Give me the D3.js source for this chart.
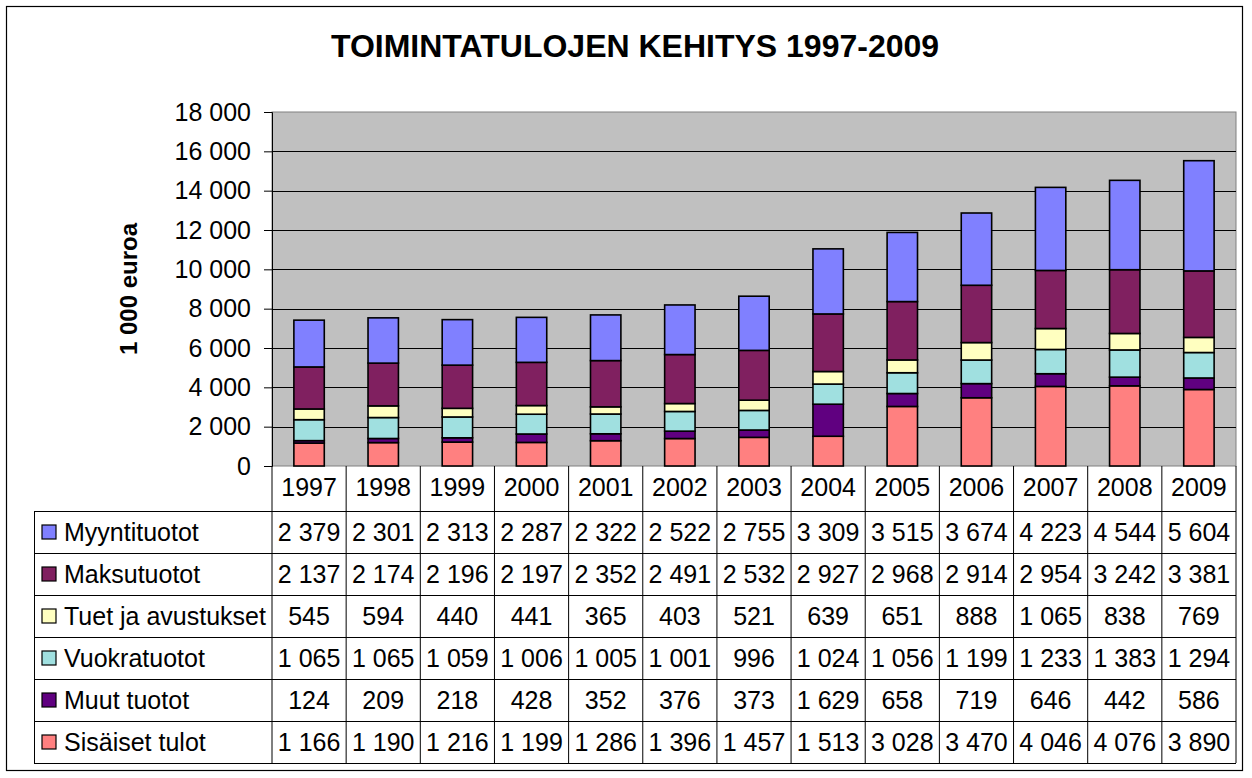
<!DOCTYPE html>
<html>
<head>
<meta charset="utf-8">
<script src="https://cdn.jsdelivr.net/npm/d3@7"></script>
<style>
  body { margin: 0; background: #fff; }
  text { font-family: "Liberation Sans", Arial, sans-serif; }
</style>
</head>
<body>
<div id="chart"></div>
<script>
// data
const years = ["1997", "1998", "1999", "2000", "2001", "2002", "2003", "2004", "2005", "2006", "2007", "2008", "2009"];
const seriesNames = ["Sisäiset tulot", "Muut tuotot", "Vuokratuotot", "Tuet ja avustukset", "Maksutuotot", "Myyntituotot"];
const seriesColors = ["#FF8080", "#600080", "#A0E0E0", "#FFFFC0", "#802060", "#8080FF"];
const sisaiset = [1166, 1190, 1216, 1199, 1286, 1396, 1457, 1513, 3028, 3470, 4046, 4076, 3890];
const muut = [124, 209, 218, 428, 352, 376, 373, 1629, 658, 719, 646, 442, 586];
const vuokra = [1065, 1065, 1059, 1006, 1005, 1001, 996, 1024, 1056, 1199, 1233, 1383, 1294];
const tuet = [545, 594, 440, 441, 365, 403, 521, 639, 651, 888, 1065, 838, 769];
const maksu = [2137, 2174, 2196, 2197, 2352, 2491, 2532, 2927, 2968, 2914, 2954, 3242, 3381];
const myynti = [2379, 2301, 2313, 2287, 2322, 2522, 2755, 3309, 3515, 3674, 4223, 4544, 5604];
const yTicks = [0, 2000, 4000, 6000, 8000, 10000, 12000, 14000, 16000, 18000];

const seriesValues = [sisaiset, muut, vuokra, tuet, maksu, myynti];
const rows = years.map((y, i) => {
  const r = { year: y };
  seriesNames.forEach((s, k) => { r[s] = seriesValues[k][i]; });
  return r;
});

const W = 1252, H = 778;
const plot = { left: 272, right: 1236, top: 112, bottom: 466 };
const tableLeft = 34, headerBottom = 511, rowH = 42;
const fs = '25px';

const fmt = d3.formatLocale({ decimal: ",", thousands: " ", grouping: [3], currency: ["", ""] }).format(",d");

const svg = d3.select('#chart').append('svg')
  .attr('width', W)
  .attr('height', H);

// outer frame
svg.append('rect')
  .attr('x', 6.5).attr('y', 6.5)
  .attr('width', 1236).attr('height', 764)
  .attr('fill', '#fff')
  .attr('stroke', '#000')
  .attr('stroke-width', 1.2);

svg.append('text')
  .attr('x', 635).attr('y', 57)
  .attr('text-anchor', 'middle')
  .style('font-size', '32px')
  .style('font-weight', 'bold')
  .text('TOIMINTATULOJEN KEHITYS 1997-2009');

const x = d3.scaleBand().domain(years).range([plot.left, plot.right]).padding(0);
const y = d3.scaleLinear().domain([0, 18000]).range([plot.bottom, plot.top]);

// plot area
svg.append('rect')
  .attr('x', plot.left).attr('y', plot.top)
  .attr('width', plot.right - plot.left).attr('height', plot.bottom - plot.top)
  .attr('fill', '#C0C0C0')
  .attr('stroke', '#808080');

// gridlines
svg.append('g')
  .selectAll('line')
  .data(yTicks.filter(d => d > 0 && d < 18000))
  .enter()
  .append('line')
  .attr('x1', plot.left).attr('x2', plot.right)
  .attr('y1', d => Math.round(y(d)) + 0.5).attr('y2', d => Math.round(y(d)) + 0.5)
  .attr('stroke', '#000');

// y axis
const yAxis = svg.append('g')
  .attr('transform', `translate(${plot.left},0)`)
  .call(d3.axisLeft(y).tickValues(yTicks).tickFormat(fmt).tickSize(8).tickPadding(13));
yAxis.select('.domain').attr('stroke', '#000');
yAxis.selectAll('text').style('font-size', fs).attr('fill', '#000')
  .style('font-family', '"Liberation Sans", Arial, sans-serif');

svg.append('text')
  .attr('transform', `translate(137,${(plot.top + plot.bottom) / 2}) rotate(-90)`)
  .attr('text-anchor', 'middle')
  .style('font-size', '24px')
  .style('font-weight', 'bold')
  .text('1 000 euroa');

// stacked bars
const stack = d3.stack().keys(seriesNames)(rows);
const barW = x.bandwidth() * 0.41;
svg.append('g')
  .selectAll('g')
  .data(stack)
  .enter()
  .append('g')
  .attr('fill', (d, i) => seriesColors[i])
  .selectAll('rect')
  .data(d => d)
  .enter()
  .append('rect')
  .attr('x', d => x(d.data.year) + (x.bandwidth() - barW) / 2)
  .attr('y', d => y(d[1]))
  .attr('width', barW)
  .attr('height', d => y(d[0]) - y(d[1]))
  .attr('stroke', '#000')
  .attr('stroke-width', 1.6);

// data table
const table = svg.append('g');
const tableRows = seriesNames.slice().reverse();
const tableVals = seriesValues.slice().reverse();
const tableColors = seriesColors.slice().reverse();
const tableBottom = headerBottom + rowH * tableRows.length;

// year header cells
table.selectAll('.yr')
  .data(years)
  .enter()
  .append('text')
  .attr('x', d => x(d) + x.bandwidth() / 2)
  .attr('y', 496)
  .attr('text-anchor', 'middle')
  .style('font-size', fs)
  .text(d => d);

// horizontal lines
table.selectAll('.hl')
  .data(d3.range(tableRows.length + 1))
  .enter()
  .append('line')
  .attr('x1', tableLeft).attr('x2', plot.right)
  .attr('y1', i => headerBottom + i * rowH + 0.5).attr('y2', i => headerBottom + i * rowH + 0.5)
  .attr('stroke', '#000');

// vertical lines
table.selectAll('.vl')
  .data(years.concat(['end']))
  .enter()
  .append('line')
  .attr('x1', d => d === 'end' ? plot.right : x(d))
  .attr('x2', d => d === 'end' ? plot.right : x(d))
  .attr('y1', plot.bottom)
  .attr('y2', tableBottom)
  .attr('stroke', '#000');
table.append('line')
  .attr('x1', tableLeft + 0.5).attr('x2', tableLeft + 0.5)
  .attr('y1', headerBottom).attr('y2', tableBottom)
  .attr('stroke', '#000');

tableRows.forEach((name, r) => {
  const cy = headerBottom + r * rowH + rowH / 2;
  table.append('rect')
    .attr('x', 42).attr('y', cy - 7)
    .attr('width', 14).attr('height', 14)
    .attr('fill', tableColors[r])
    .attr('stroke', '#000')
    .attr('stroke-width', 1.2);
  table.append('text')
    .attr('x', 64).attr('y', cy + 9)
    .style('font-size', fs)
    .text(name);
  table.selectAll('.v' + r)
    .data(tableVals[r])
    .enter()
    .append('text')
    .attr('x', (d, i) => x(years[i]) + x.bandwidth() / 2)
    .attr('y', cy + 9)
    .attr('text-anchor', 'middle')
    .style('font-size', fs)
    .text(d => fmt(d));
});
</script>
</body>
</html>
